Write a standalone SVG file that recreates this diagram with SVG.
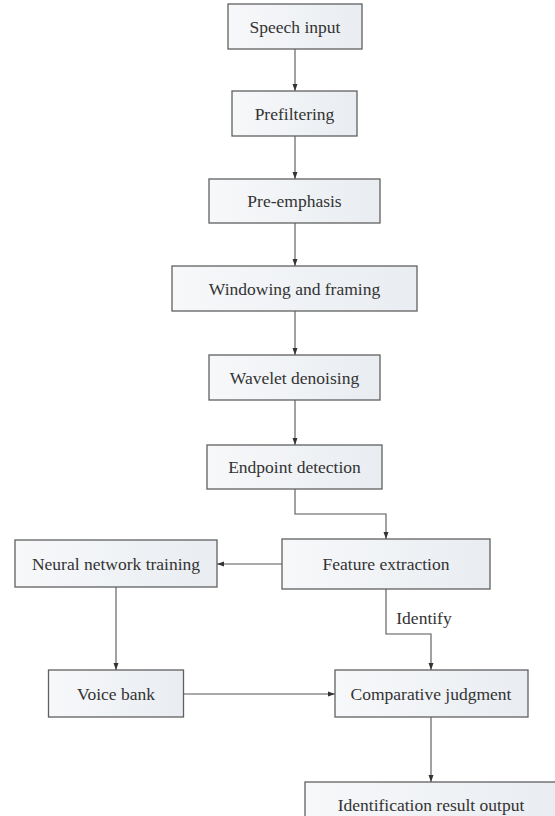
<svg xmlns="http://www.w3.org/2000/svg" width="555" height="816" viewBox="0 0 555 816">
<style>
.box{fill:url(#g);stroke:#606060;stroke-width:1.3}
text{font-family:'Liberation Serif','Times New Roman',Times,'DejaVu Serif',serif;font-size:17.5px;fill:#333;text-anchor:middle;dominant-baseline:central}
.c{fill:none;stroke:#555;stroke-width:1.1}
</style>
<defs>
<linearGradient id="g" x1="0" y1="0" x2="1" y2="0">
<stop offset="0" stop-color="#f7f8fa"/>
<stop offset="1" stop-color="#e9edf1"/>
</linearGradient>
<marker id="a" markerUnits="userSpaceOnUse" markerWidth="8" markerHeight="8" viewBox="0 0 8 8" refX="8" refY="4" orient="auto">
<path d="M1,1.5 L8,4 L1,6.5 Z" fill="#333"/>
</marker>
</defs>
<rect width="555" height="816" fill="#fff"/>
<g id="connectors">
<path class="c" d="M295,49 V91" marker-end="url(#a)"/>
<path class="c" d="M295,136 V179" marker-end="url(#a)"/>
<path class="c" d="M295,223 V266" marker-end="url(#a)"/>
<path class="c" d="M295,311 V355" marker-end="url(#a)"/>
<path class="c" d="M295,400 V445" marker-end="url(#a)"/>
<path class="c" d="M295,489 V514 H386 V539" marker-end="url(#a)"/>
<path class="c" d="M282,564 H217" marker-end="url(#a)"/>
<path class="c" d="M116,587 V670" marker-end="url(#a)"/>
<path class="c" d="M386,589 V634 H431 V670" marker-end="url(#a)"/>
<path class="c" d="M184,694 H335" marker-end="url(#a)"/>
<path class="c" d="M431,717 V782" marker-end="url(#a)"/>
<text x="424" y="618">Identify</text>
</g>
<g id="speech-input"><rect class="box" x="228" y="4" width="134" height="45"/><text x="295" y="26.5">Speech input</text></g>
<g id="prefiltering"><rect class="box" x="232" y="91" width="125" height="45"/><text x="294.5" y="113.5">Prefiltering</text></g>
<g id="pre-emphasis"><rect class="box" x="209" y="179" width="171" height="44"/><text x="294.5" y="201">Pre-emphasis</text></g>
<g id="windowing"><rect class="box" x="172" y="266" width="245" height="45"/><text x="294.5" y="288.5">Windowing and framing</text></g>
<g id="wavelet"><rect class="box" x="209" y="355" width="171" height="45"/><text x="294.5" y="377.5">Wavelet denoising</text></g>
<g id="endpoint"><rect class="box" x="207" y="445" width="175" height="44"/><text x="294.5" y="467">Endpoint detection</text></g>
<g id="neural"><rect class="box" x="15" y="540" width="202" height="47"/><text x="116" y="563.5">Neural network training</text></g>
<g id="feature"><rect class="box" x="282" y="539" width="208" height="50"/><text x="386" y="564">Feature extraction</text></g>
<g id="voice-bank"><rect class="box" x="48.5" y="670" width="135" height="47"/><text x="116" y="693.5">Voice bank</text></g>
<g id="comparative"><rect class="box" x="335" y="670" width="193" height="47"/><text x="431" y="693.5">Comparative judgment</text></g>
<g id="identification"><rect class="box" x="305" y="782" width="252" height="45"/><text x="431" y="804.5">Identification result output</text></g>
</svg>
